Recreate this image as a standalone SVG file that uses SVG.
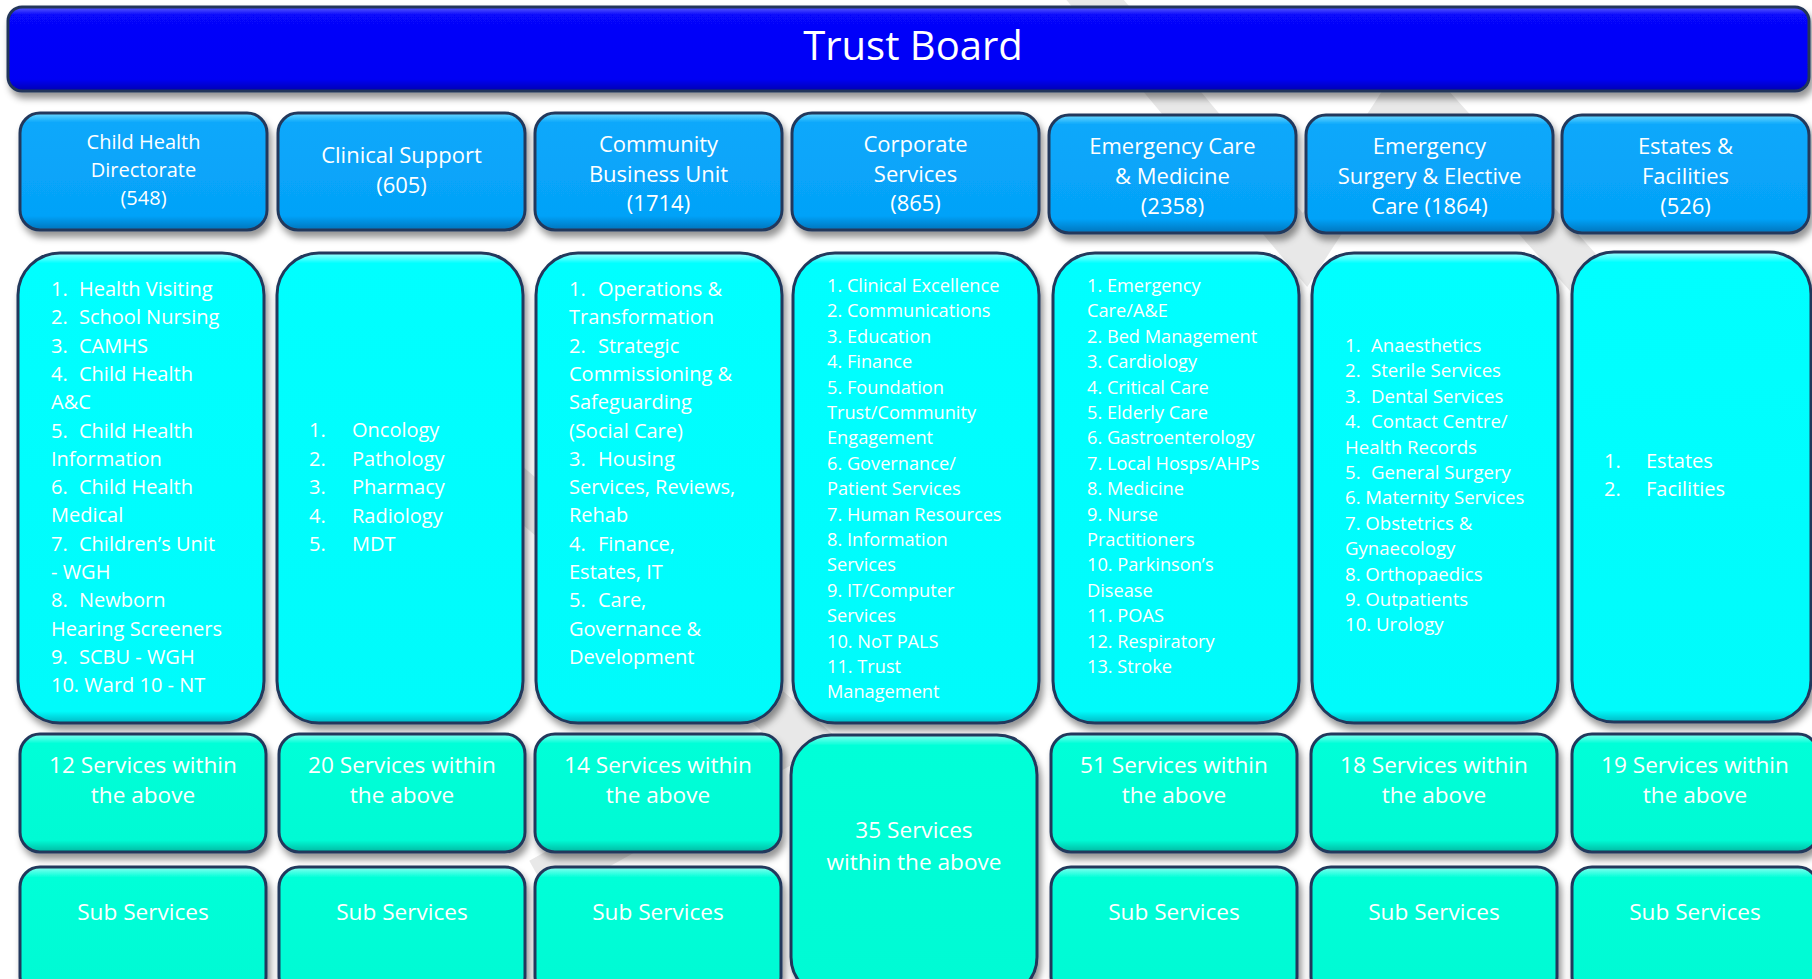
<svg xmlns="http://www.w3.org/2000/svg" width="1812" height="979" viewBox="0 0 1812 979">
  <defs>
    <filter id="shadow" x="-10%" y="-10%" width="125%" height="130%">
      <feDropShadow dx="3" dy="6" stdDeviation="3.5" flood-color="#000" flood-opacity="0.42"/>
    </filter>
    <linearGradient id="gBar" x1="0" y1="0" x2="0" y2="1">
      <stop offset="0" stop-color="#5a5aff"/>
      <stop offset="0.1" stop-color="#0707fb"/>
      <stop offset="0.86" stop-color="#0000f4"/>
      <stop offset="1" stop-color="#0000b0"/>
    </linearGradient>
    <linearGradient id="gHead" x1="0" y1="0" x2="0" y2="1">
      <stop offset="0" stop-color="#6edaff"/>
      <stop offset="0.08" stop-color="#0aa8fb"/>
      <stop offset="0.88" stop-color="#05a2f8"/>
      <stop offset="1" stop-color="#0674bb"/>
    </linearGradient>
    <linearGradient id="gList" x1="0" y1="0" x2="0" y2="1">
      <stop offset="0" stop-color="#a8ffff"/>
      <stop offset="0.022" stop-color="#00ffff"/>
      <stop offset="0.975" stop-color="#00fbfb"/>
      <stop offset="1" stop-color="#00b8c4"/>
    </linearGradient>
    <linearGradient id="gSvc" x1="0" y1="0" x2="0" y2="1">
      <stop offset="0" stop-color="#8afff2"/>
      <stop offset="0.08" stop-color="#00ffd8"/>
      <stop offset="0.9" stop-color="#00fad4"/>
      <stop offset="1" stop-color="#00b8a2"/>
    </linearGradient>
    <linearGradient id="gTall" x1="0" y1="0" x2="0" y2="1">
      <stop offset="0" stop-color="#8afff2"/>
      <stop offset="0.04" stop-color="#00ffd8"/>
      <stop offset="1" stop-color="#00fad4"/>
    </linearGradient>
    <style>
      .bar { fill: url(#gBar); stroke: #22365a; stroke-width: 3; filter: url(#shadow); }
      .head { fill: url(#gHead); stroke: #23395c; stroke-width: 3; filter: url(#shadow); }
      .list { fill: url(#gList); stroke: #23395c; stroke-width: 3; filter: url(#shadow); }
      .svc { fill: url(#gSvc); stroke: #23395c; stroke-width: 3; filter: url(#shadow); }
      .tall { fill: url(#gTall); stroke: #23395c; stroke-width: 3; filter: url(#shadow); }
      text { font-family: "Open Sans", "Noto Sans", "Liberation Sans", sans-serif; fill: #ffffff; }
      .title { font-size: 40px; text-anchor: middle; }
      .hd { font-size: 22px; text-anchor: middle; }
      .hds { font-size: 20px; text-anchor: middle; }
      .li { font-size: 20px; }
      .ls { font-size: 18.2px; }
      .lm { font-size: 18.6px; }
      .sv { font-size: 22.6px; text-anchor: middle; }
      .wm { fill: none; stroke: #e8e8e8; stroke-width: 44; stroke-linejoin: miter; }
    </style>
  </defs>

  <rect width="1812" height="979" fill="#ffffff"/>

  <!-- faint background chevrons -->
  <g id="watermark">
    <polyline class="wm" points="1070,-30 1305,250 1413,84 1680,380"/>
    <polyline class="wm" points="470,450 800,735 540,880"/>
  </g>

  <!-- connectors: none are drawn, the tiers are stacked directly -->
  <g id="connectors"/>

  <g id="trust-board">
    <rect class="bar" x="8" y="7" width="1801" height="84" rx="14"/>
    <text class="title" x="913" y="60">Trust Board</text>
  </g>

  <!-- directorate headers -->
  <g id="hd-child-health">
    <rect class="head" x="20" y="113" width="247" height="117" rx="20"/>
    <text class="hds" x="143.5" y="149">Child Health</text>
    <text class="hds" x="143.5" y="177">Directorate</text>
    <text class="hds" x="143.5" y="205">(548)</text>
  </g>
  <g id="hd-clinical-support">
    <rect class="head" x="278" y="113" width="247" height="117" rx="20"/>
    <text class="hd" x="401.5" y="163">Clinical Support</text>
    <text class="hd" x="401.5" y="193">(605)</text>
  </g>
  <g id="hd-community">
    <rect class="head" x="535" y="113" width="247" height="117" rx="20"/>
    <text class="hd" x="658.5" y="152">Community</text>
    <text class="hd" x="658.5" y="182">Business Unit</text>
    <text class="hd" x="658.5" y="211">(1714)</text>
  </g>
  <g id="hd-corporate">
    <rect class="head" x="792" y="113" width="247" height="117" rx="20"/>
    <text class="hd" x="915.5" y="152">Corporate</text>
    <text class="hd" x="915.5" y="182">Services</text>
    <text class="hd" x="915.5" y="211">(865)</text>
  </g>
  <g id="hd-emergency-care">
    <rect class="head" x="1049" y="115" width="247" height="118" rx="20"/>
    <text class="hd" x="1172.5" y="154">Emergency Care</text>
    <text class="hd" x="1172.5" y="184">&amp; Medicine</text>
    <text class="hd" x="1172.5" y="214">(2358)</text>
  </g>
  <g id="hd-emergency-surgery">
    <rect class="head" x="1306" y="115" width="247" height="118" rx="20"/>
    <text class="hd" x="1429.5" y="154">Emergency</text>
    <text class="hd" x="1429.5" y="184">Surgery &amp; Elective</text>
    <text class="hd" x="1429.5" y="214">Care (1864)</text>
  </g>
  <g id="hd-estates">
    <rect class="head" x="1562" y="115" width="247" height="118" rx="20"/>
    <text class="hd" x="1685.5" y="154">Estates &amp;</text>
    <text class="hd" x="1685.5" y="184">Facilities</text>
    <text class="hd" x="1685.5" y="214">(526)</text>
  </g>

  <!-- service lists -->
  <g id="list-child-health">
    <rect class="list" x="18" y="253" width="246" height="470" rx="42"/>
    <g class="li">
      <text y="296"><tspan x="51">1.</tspan><tspan x="79">Health Visiting</tspan></text>
      <text y="324.3"><tspan x="51">2.</tspan><tspan x="79">School Nursing</tspan></text>
      <text y="352.6"><tspan x="51">3.</tspan><tspan x="79">CAMHS</tspan></text>
      <text y="380.9"><tspan x="51">4.</tspan><tspan x="79">Child Health</tspan></text>
      <text x="51" y="409.2">A&amp;C</text>
      <text y="437.5"><tspan x="51">5.</tspan><tspan x="79">Child Health</tspan></text>
      <text x="51" y="465.8">Information</text>
      <text y="494.1"><tspan x="51">6.</tspan><tspan x="79">Child Health</tspan></text>
      <text x="51" y="522.4">Medical</text>
      <text y="550.7"><tspan x="51">7.</tspan><tspan x="79">Children’s Unit</tspan></text>
      <text x="51" y="579">- WGH</text>
      <text y="607.3"><tspan x="51">8.</tspan><tspan x="79">Newborn</tspan></text>
      <text x="51" y="635.6">Hearing Screeners</text>
      <text y="663.9"><tspan x="51">9.</tspan><tspan x="79">SCBU - WGH</tspan></text>
      <text x="51" y="692.2">10. Ward 10 - NT</text>
    </g>
  </g>
  <g id="list-clinical-support">
    <rect class="list" x="277" y="253" width="246" height="470" rx="42"/>
    <g class="li">
      <text y="437"><tspan x="309">1.</tspan><tspan x="352">Oncology</tspan></text>
      <text y="465.5"><tspan x="309">2.</tspan><tspan x="352">Pathology</tspan></text>
      <text y="494"><tspan x="309">3.</tspan><tspan x="352">Pharmacy</tspan></text>
      <text y="522.5"><tspan x="309">4.</tspan><tspan x="352">Radiology</tspan></text>
      <text y="551"><tspan x="309">5.</tspan><tspan x="352">MDT</tspan></text>
    </g>
  </g>
  <g id="list-community">
    <rect class="list" x="536" y="253" width="246" height="470" rx="42"/>
    <g class="li">
      <text y="296"><tspan x="569">1.</tspan><tspan x="598">Operations &amp;</tspan></text>
      <text x="569" y="324.3">Transformation</text>
      <text y="352.6"><tspan x="569">2.</tspan><tspan x="598">Strategic</tspan></text>
      <text x="569" y="380.9">Commissioning &amp;</text>
      <text x="569" y="409.2">Safeguarding</text>
      <text x="569" y="437.5">(Social Care)</text>
      <text y="465.8"><tspan x="569">3.</tspan><tspan x="598">Housing</tspan></text>
      <text x="569" y="494.1">Services, Reviews,</text>
      <text x="569" y="522.4">Rehab</text>
      <text y="550.7"><tspan x="569">4.</tspan><tspan x="598">Finance,</tspan></text>
      <text x="569" y="579">Estates, IT</text>
      <text y="607.3"><tspan x="569">5.</tspan><tspan x="598">Care,</tspan></text>
      <text x="569" y="635.6">Governance &amp;</text>
      <text x="569" y="663.9">Development</text>
    </g>
  </g>
  <g id="list-corporate">
    <rect class="list" x="793" y="253" width="246" height="470" rx="42"/>
    <g class="ls">
      <text x="827" y="292">1. Clinical Excellence</text>
      <text x="827" y="317.4">2. Communications</text>
      <text x="827" y="342.8">3. Education</text>
      <text x="827" y="368.2">4. Finance</text>
      <text x="827" y="393.6">5. Foundation</text>
      <text x="827" y="419">Trust/Community</text>
      <text x="827" y="444.4">Engagement</text>
      <text x="827" y="469.8">6. Governance/</text>
      <text x="827" y="495.2">Patient Services</text>
      <text x="827" y="520.6">7. Human Resources</text>
      <text x="827" y="546">8. Information</text>
      <text x="827" y="571.4">Services</text>
      <text x="827" y="596.8">9. IT/Computer</text>
      <text x="827" y="622.2">Services</text>
      <text x="827" y="647.6">10. NoT PALS</text>
      <text x="827" y="673">11. Trust</text>
      <text x="827" y="698.4">Management</text>
    </g>
  </g>
  <g id="list-emergency-care">
    <rect class="list" x="1053" y="253" width="246" height="470" rx="42"/>
    <g class="ls">
      <text x="1087" y="292">1. Emergency</text>
      <text x="1087" y="317.4">Care/A&amp;E</text>
      <text x="1087" y="342.8">2. Bed Management</text>
      <text x="1087" y="368.2">3. Cardiology</text>
      <text x="1087" y="393.6">4. Critical Care</text>
      <text x="1087" y="419">5. Elderly Care</text>
      <text x="1087" y="444.4">6. Gastroenterology</text>
      <text x="1087" y="469.8">7. Local Hosps/AHPs</text>
      <text x="1087" y="495.2">8. Medicine</text>
      <text x="1087" y="520.6">9. Nurse</text>
      <text x="1087" y="546">Practitioners</text>
      <text x="1087" y="571.4">10. Parkinson’s</text>
      <text x="1087" y="596.8">Disease</text>
      <text x="1087" y="622.2">11. POAS</text>
      <text x="1087" y="647.6">12. Respiratory</text>
      <text x="1087" y="673">13. Stroke</text>
    </g>
  </g>
  <g id="list-emergency-surgery">
    <rect class="list" x="1312" y="253" width="246" height="470" rx="42"/>
    <g class="lm">
      <text y="352"><tspan x="1345">1.</tspan><tspan x="1371">Anaesthetics</tspan></text>
      <text y="377.4"><tspan x="1345">2.</tspan><tspan x="1371">Sterile Services</tspan></text>
      <text y="402.8"><tspan x="1345">3.</tspan><tspan x="1371">Dental Services</tspan></text>
      <text y="428.2"><tspan x="1345">4.</tspan><tspan x="1371">Contact Centre/</tspan></text>
      <text x="1345" y="453.6">Health Records</text>
      <text y="479"><tspan x="1345">5.</tspan><tspan x="1371">General Surgery</tspan></text>
      <text x="1345" y="504.4">6. Maternity Services</text>
      <text x="1345" y="529.8">7. Obstetrics &amp;</text>
      <text x="1345" y="555.2">Gynaecology</text>
      <text x="1345" y="580.6">8. Orthopaedics</text>
      <text x="1345" y="606">9. Outpatients</text>
      <text x="1345" y="631.4">10. Urology</text>
    </g>
  </g>
  <g id="list-estates">
    <rect class="list" x="1572" y="252" width="239" height="470" rx="42"/>
    <g class="li">
      <text y="468"><tspan x="1604">1.</tspan><tspan x="1646">Estates</tspan></text>
      <text y="496"><tspan x="1604">2.</tspan><tspan x="1646">Facilities</tspan></text>
    </g>
  </g>

  <!-- service counts -->
  <g id="count-child-health">
    <rect class="svc" x="20" y="734" width="246" height="118" rx="20"/>
    <text class="sv" x="143" y="773">12 Services within</text>
    <text class="sv" x="143" y="803">the above</text>
  </g>
  <g id="count-clinical-support">
    <rect class="svc" x="279" y="734" width="246" height="118" rx="20"/>
    <text class="sv" x="402" y="773">20 Services within</text>
    <text class="sv" x="402" y="803">the above</text>
  </g>
  <g id="count-community">
    <rect class="svc" x="535" y="734" width="246" height="118" rx="20"/>
    <text class="sv" x="658" y="773">14 Services within</text>
    <text class="sv" x="658" y="803">the above</text>
  </g>
  <g id="count-corporate">
    <rect class="tall" x="791" y="735" width="246" height="262" rx="40"/>
    <text class="sv" x="914" y="838">35 Services</text>
    <text class="sv" x="914" y="870">within the above</text>
  </g>
  <g id="count-emergency-care">
    <rect class="svc" x="1051" y="734" width="246" height="118" rx="20"/>
    <text class="sv" x="1174" y="773">51 Services within</text>
    <text class="sv" x="1174" y="803">the above</text>
  </g>
  <g id="count-emergency-surgery">
    <rect class="svc" x="1311" y="734" width="246" height="118" rx="20"/>
    <text class="sv" x="1434" y="773">18 Services within</text>
    <text class="sv" x="1434" y="803">the above</text>
  </g>
  <g id="count-estates">
    <rect class="svc" x="1572" y="734" width="246" height="118" rx="20"/>
    <text class="sv" x="1695" y="773">19 Services within</text>
    <text class="sv" x="1695" y="803">the above</text>
  </g>

  <!-- sub services -->
  <g id="sub-child-health">
    <rect class="svc" x="20" y="867" width="246" height="130" rx="20"/>
    <text class="sv" x="143" y="920">Sub Services</text>
  </g>
  <g id="sub-clinical-support">
    <rect class="svc" x="279" y="867" width="246" height="130" rx="20"/>
    <text class="sv" x="402" y="920">Sub Services</text>
  </g>
  <g id="sub-community">
    <rect class="svc" x="535" y="867" width="246" height="130" rx="20"/>
    <text class="sv" x="658" y="920">Sub Services</text>
  </g>
  <g id="sub-emergency-care">
    <rect class="svc" x="1051" y="867" width="246" height="130" rx="20"/>
    <text class="sv" x="1174" y="920">Sub Services</text>
  </g>
  <g id="sub-emergency-surgery">
    <rect class="svc" x="1311" y="867" width="246" height="130" rx="20"/>
    <text class="sv" x="1434" y="920">Sub Services</text>
  </g>
  <g id="sub-estates">
    <rect class="svc" x="1572" y="867" width="246" height="130" rx="20"/>
    <text class="sv" x="1695" y="920">Sub Services</text>
  </g>
</svg>
